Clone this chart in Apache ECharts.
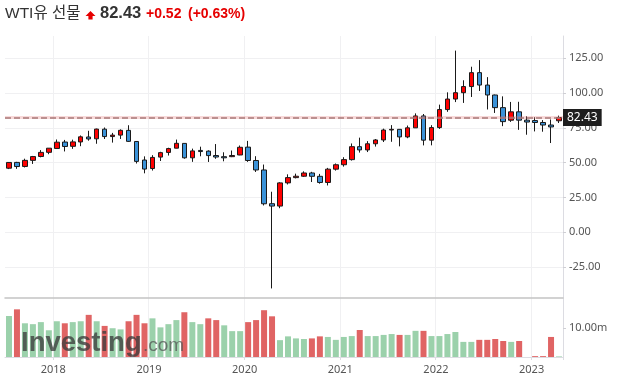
<!DOCTYPE html>
<html><head><meta charset="utf-8">
<script src="https://cdn.jsdelivr.net/npm/echarts@6/dist/echarts.min.js"></script>
<style>html,body{margin:0;padding:0;background:#fff}#c{width:623px;height:388px}</style>
</head><body><div id="c"></div>
<script>
const categories = [
 '2017-07','2017-08','2017-09','2017-10','2017-11','2017-12',
 '2018-01','2018-02','2018-03','2018-04','2018-05','2018-06','2018-07','2018-08','2018-09','2018-10','2018-11','2018-12',
 '2019-01','2019-02','2019-03','2019-04','2019-05','2019-06','2019-07','2019-08','2019-09','2019-10','2019-11','2019-12',
 '2020-01','2020-02','2020-03','2020-04','2020-05','2020-06','2020-07','2020-08','2020-09','2020-10','2020-11','2020-12',
 '2021-01','2021-02','2021-03','2021-04','2021-05','2021-06','2021-07','2021-08','2021-09','2021-10','2021-11','2021-12',
 '2022-01','2022-02','2022-03','2022-04','2022-05','2022-06','2022-07','2022-08','2022-09','2022-10','2022-11','2022-12',
 '2023-01','2023-02','2023-03','2023-04'];
const opens = [46.04,50.21,47.29,51.67,54.45,57.43,
 60.20,64.82,61.75,64.90,68.46,67.15,74.08,68.76,69.80,73.21,65.23,51.91,
 45.81,54.01,57.37,60.42,63.85,53.50,58.80,58.31,55.14,54.30,54.33,55.54,
 61.18,51.58,44.76,20.54,18.84,35.49,39.27,40.27,42.61,40.22,35.79,45.34,
 48.52,52.20,61.50,59.16,63.58,66.32,73.47,73.95,68.50,75.03,83.57,66.18,
 75.21,88.15,95.72,100.28,104.69,114.67,105.76,98.62,89.55,80.50,86.53,80.55,
 80.26,78.87,77.05,80.10];
const closes = [50.17,47.23,51.67,54.38,57.40,60.42,
 64.73,61.64,64.94,68.57,67.04,74.15,68.76,69.80,73.25,65.31,50.93,45.41,
 53.79,57.22,60.14,63.91,53.50,58.47,58.00,55.10,54.07,53.50,55.17,61.06,
 51.56,44.76,20.48,18.84,35.49,39.27,40.27,42.61,40.22,35.79,45.34,48.52,
 52.20,61.50,59.16,63.58,66.32,73.47,73.95,68.50,75.03,83.57,66.18,75.21,
 88.15,95.72,100.28,104.69,114.67,105.76,98.62,89.55,79.49,86.53,80.55,79.20,
 78.87,77.05,75.67,82.43];
const lows = [45.40,45.58,46.57,49.10,53.84,56.09,
 59.81,58.07,59.95,61.84,65.80,63.59,67.03,64.43,67.04,64.86,49.41,42.36,
 44.35,51.23,55.13,60.29,52.86,50.60,54.60,50.52,52.80,50.99,54.00,55.38,
 50.58,43.32,19.27,-40.32,17.30,34.36,38.72,39.75,36.13,34.92,33.64,44.31,
 47.18,51.52,57.25,57.63,61.56,64.84,65.01,61.74,67.58,74.96,62.43,62.46,
 74.27,86.55,93.53,92.93,97.20,101.53,88.23,85.73,76.25,79.30,73.60,70.08,
 72.46,72.25,64.12,78.50];
const highs = [50.43,50.60,52.86,54.85,59.05,60.51,
 66.66,66.36,66.55,69.56,72.90,74.46,75.27,71.40,73.91,76.90,65.48,54.55,
 55.39,57.81,60.73,66.60,63.91,60.09,61.50,58.89,63.38,57.47,58.74,62.34,
 65.65,54.66,48.66,29.13,36.00,41.63,42.12,43.78,43.43,41.95,46.26,49.43,
 53.93,63.81,67.98,65.47,67.00,74.45,76.98,74.04,76.67,85.41,84.97,76.94,
 91.70,100.54,130.50,109.19,118.93,123.68,111.45,98.90,97.65,93.64,93.74,83.34,
 82.66,80.62,81.04,83.80];
const volumes = [14.1,16.4,11.6,11.3,12.0,9.2,
 12.3,11.6,12.0,12.3,14.5,12.3,10.7,9.9,9.5,12.3,14.5,11.6,
 13.3,10.2,11.3,12.7,15.4,12.0,11.3,13.3,12.7,10.9,8.9,8.9,
 12.0,12.7,16.1,14.0,5.8,7.1,6.4,6.2,6.4,7.1,6.9,5.9,
 6.9,7.2,9.3,7.2,7.2,7.6,7.9,7.6,7.6,9.0,9.0,7.2,
 7.2,7.9,8.6,5.2,5.2,5.9,5.9,6.2,5.5,5.2,5.5,0,
 0.3,0.3,6.9,0.2];
const volumeSides = ['g','r','g','g','g','g',
 'g','r','g','g','r','g','r','g','g','r','r','r',
 'g','g','g','g','r','g','g','r','r','g','g','g',
 'r','r','r','r','g','g','g','g','r','r','g','g',
 'g','g','r','g','g','g','g','r','g','g','r','g',
 'g','g','g','g','g','r','r','r','r','g','r','r',
 'r','r','r','g'];
const priceTicks = [-25,0,25,50,75,100,125];
const volumeTicks = [10];
const lastPrice = 82.43;
const change = '+0.52';
const changePct = '(+0.63%)';
const titleText = 'WTI유 선물';

const chart = echarts.init(document.getElementById('c'));
const isYearStart = (i, v) => String(v).slice(5) === '01';
const candleData = categories.map((c, i) => [opens[i], closes[i], lows[i], highs[i]]);
const volData = volumes.map((v, i) => ({value: v, itemStyle: {color: volumeSides[i] === 'r' ? '#e06464' : '#9bd1ab'}}));
const axisFont = 'Noto Sans';

chart.setOption({
  animation: false,
  grid: [
    {left: 5, right: 60, top: 36, height: 262},
    {left: 5, right: 60, top: 298, height: 59}
  ],
  xAxis: [
    {type: 'category', gridIndex: 0, data: categories, boundaryGap: true,
     axisLine: {show: true, onZero: false, lineStyle: {color: '#c4c4c4', width: 1.5}},
     axisTick: {show: false}, axisLabel: {show: false},
     splitLine: {show: true, interval: isYearStart, lineStyle: {color: '#f0f0f2'}}},
    {type: 'category', gridIndex: 1, data: categories, boundaryGap: true,
     axisLine: {show: true, onZero: false, lineStyle: {color: '#dcdce2'}},
     axisTick: {show: true, interval: isYearStart, length: 3, lineStyle: {color: '#dcdce2'}},
     axisLabel: {interval: isYearStart, formatter: v => v.slice(0, 4), color: '#555', fontSize: 11,
                 fontFamily: axisFont, margin: 7, padding: [0, 7, 0, 0]},
     splitLine: {show: true, interval: isYearStart, lineStyle: {color: '#f0f0f2'}}}
  ],
  yAxis: [
    {type: 'value', gridIndex: 0, position: 'right', min: -47.2, max: 141,
     axisLine: {show: true, onZero: false, lineStyle: {color: '#dcdce2'}},
     axisTick: {show: true, length: 3, customValues: priceTicks, lineStyle: {color: '#cfcfd4'}},
     axisLabel: {customValues: priceTicks, formatter: v => v.toFixed(2), color: '#555', fontSize: 11,
                 fontFamily: axisFont, margin: 6},
     splitLine: {show: true, lineStyle: {color: '#f0f0f2'}}},
    {type: 'value', gridIndex: 1, position: 'right', min: 0, max: 20.3,
     axisLine: {show: true, onZero: false, lineStyle: {color: '#dcdce2'}},
     axisTick: {show: true, length: 3, customValues: volumeTicks, lineStyle: {color: '#cfcfd4'}},
     axisLabel: {customValues: volumeTicks, formatter: v => v.toFixed(2) + 'm', color: '#555', fontSize: 11,
                 fontFamily: axisFont, margin: 6},
     splitLine: {show: false}}
  ],
  series: [
    {type: 'candlestick', xAxisIndex: 0, yAxisIndex: 0, data: candleData, barWidth: 5,
     itemStyle: {color: '#ff0000', color0: '#3a92d8', borderColor: '#1a1a1a', borderColor0: '#1a1a1a', borderWidth: 1},
     markLine: {symbol: 'none', silent: true, animation: false, data: [
       {yAxis: lastPrice, lineStyle: {color: 'rgba(230,120,120,0.28)', width: 3, type: 'solid'}, label: {show: false}},
       {yAxis: lastPrice, lineStyle: {color: '#a87878', width: 1.5, type: [6, 3]},
        label: {show: true, position: 'end', formatter: lastPrice.toFixed(2), backgroundColor: '#1e1e1e',
                color: '#fff', padding: [3, 4, 2, 4], fontSize: 12, fontFamily: axisFont, distance: 0}}
     ]}},
    {type: 'bar', xAxisIndex: 1, yAxisIndex: 1, data: volData, barWidth: 6}
  ],
  graphic: [
    {type: 'text', x: 5, y: 13.5, z: 10, style: {text: titleText, font: '15.5px "Liberation Sans", "Noto Sans CJK KR"', fill: '#333', verticalAlign: 'middle'}},
    {type: 'polygon', z: 10, shape: {points: [[90.5, 11], [95.5, 16], [92.6, 16], [92.6, 19.5], [88.4, 19.5], [88.4, 16], [85.5, 16]]}, style: {fill: '#e60000'}},
    {type: 'text', x: 100, y: 13.5, z: 10, style: {text: lastPrice.toFixed(2), font: 'bold 16.5px "Liberation Sans"', fill: '#333', verticalAlign: 'middle'}},
    {type: 'text', x: 146, y: 14, z: 10, style: {text: change, font: 'bold 14px "Liberation Sans"', fill: '#e60000', verticalAlign: 'middle'}},
    {type: 'text', x: 188, y: 14, z: 10, style: {text: changePct, font: 'bold 14px "Liberation Sans"', fill: '#e60000', verticalAlign: 'middle'}},
    {type: 'text', x: 21, y: 343, z: 10, style: {text: 'Investing', font: 'bold 27.5px "Liberation Sans"', fill: 'rgba(60,60,60,0.78)', verticalAlign: 'middle'}},
    {type: 'text', x: 143, y: 346, z: 10, style: {text: '.com', font: '19px "Liberation Sans"', fill: 'rgba(80,80,80,0.72)', verticalAlign: 'middle'}}
  ]
});
</script></body></html>
